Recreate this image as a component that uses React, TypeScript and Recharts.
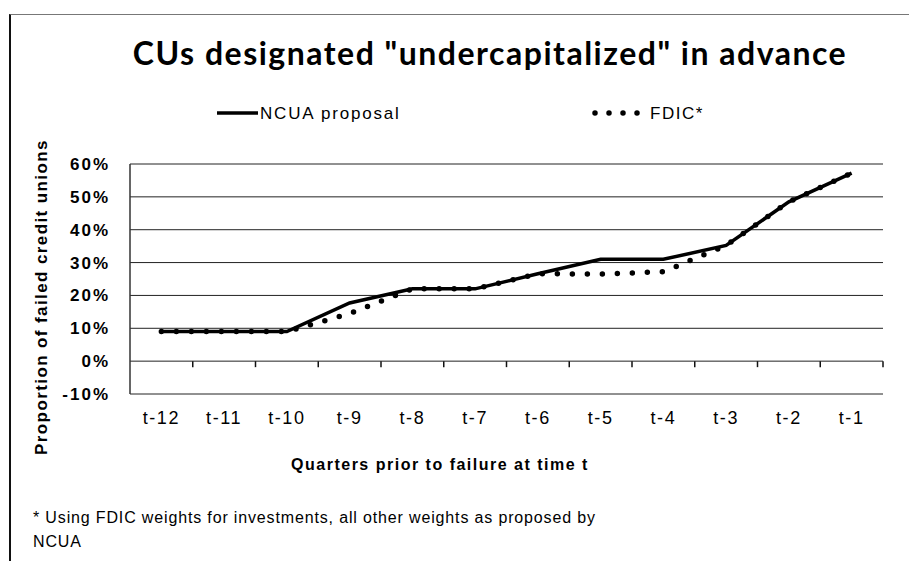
import { LineChart, Line, XAxis, YAxis, CartesianGrid, Legend } from "recharts";

const quarters = ["t-12", "t-11", "t-10", "t-9", "t-8", "t-7", "t-6", "t-5", "t-4", "t-3", "t-2", "t-1"];
const ncuaProposal = [9, 9, 9, 17.7, 22, 22, 26.6, 31, 31, 35.2, 48.5, 57.2];
const fdicWeights = [9, 9, 9, 14.5, 22, 22, 26.6, 26.5, 27.2, 35.2, 48.5, 57.2];
const yTicks = [-10, 0, 10, 20, 30, 40, 50, 60];

const data = quarters.map((q, i) => ({
  quarter: q,
  ncua: ncuaProposal[i],
  fdic: fdicWeights[i],
}));

// plot box, used only for the little tick marks on the 0% line
const W = 909;
const H = 561;
const M = { top: 164, right: 26, bottom: 137, left: 70 };
const Y_AXIS_W = 60;
const X_AXIS_H = 30;
const plotLeft = M.left + Y_AXIS_W;
const plotRight = W - M.right;
const plotTop = M.top;
const plotBottom = H - M.bottom - X_AXIS_H;
const band = (plotRight - plotLeft) / quarters.length;
const zeroY = plotBottom - ((0 - -10) / 70) * (plotBottom - plotTop);

const arial = "'Liberation Sans', Arial, sans-serif";

function QuarterTick(props: any) {
  const { x, payload } = props;
  return (
    <g>
      <line x1={x + band / 2} x2={x + band / 2} y1={zeroY} y2={zeroY + 6} stroke="#111" strokeWidth={1.5} />
      <text
        x={x}
        y={plotBottom + 30}
        textAnchor="middle"
        fontFamily={arial}
        fontSize={18}
        letterSpacing={1.6}
        fill="#000"
      >
        {payload.value}
      </text>
    </g>
  );
}

function LegendBox() {
  return (
    <div style={{ position: "relative", width: W, height: 30 }}>
      <svg width={W} height={30} style={{ position: "absolute", left: 0, top: 0 }}>
        <line x1={217} x2={258} y1={14} y2={14} stroke="#000" strokeWidth={3.5} />
        <line
          x1={595}
          x2={640}
          y1={14}
          y2={14}
          stroke="#000"
          strokeWidth={5.5}
          strokeDasharray="0 14"
          strokeLinecap="round"
        />
        <text x={260} y={20} fontFamily={arial} fontSize={17} letterSpacing={1.8} fill="#000">
          NCUA proposal
        </text>
        <text x={650} y={20} fontFamily={arial} fontSize={17} letterSpacing={1.5} fill="#000">
          FDIC*
        </text>
      </svg>
    </div>
  );
}

export default function App() {
  return (
    <div style={{ position: "absolute", left: 0, top: 0, width: W, height: H, background: "#fff" }}>
      <div
        style={{
          position: "absolute",
          left: 9,
          top: 14,
          width: W - 9,
          height: H - 14,
          borderTop: "1.5px solid #777",
          borderLeft: "2px solid #111",
        }}
      />
      <div
        style={{
          position: "absolute",
          left: 490,
          top: 33,
          transform: "translateX(-50%)",
          whiteSpace: "nowrap",
          fontFamily: "Lato, 'Open Sans', sans-serif",
          fontWeight: 700,
          fontSize: 32,
          letterSpacing: 1.5,
          color: "#000",
        }}
      >
        CUs designated "undercapitalized" in advance
      </div>
      <div
        style={{
          position: "absolute",
          left: 42,
          top: 297,
          transform: "translate(-50%, -50%) rotate(-90deg)",
          whiteSpace: "nowrap",
          fontFamily: arial,
          fontWeight: 700,
          fontSize: 17,
          letterSpacing: 1.4,
          color: "#000",
        }}
      >
        Proportion of failed credit unions
      </div>
      <LineChart width={W} height={H} data={data} margin={M} style={{ position: "absolute", left: 0, top: 0 }}>
        <CartesianGrid horizontal vertical={false} stroke="#222" strokeWidth={1} />
        <XAxis
          dataKey="quarter"
          scale="band"
          height={X_AXIS_H}
          axisLine={false}
          tickLine={false}
          interval={0}
          tick={<QuarterTick />}
        />
        <YAxis
          width={Y_AXIS_W}
          domain={[-10, 60]}
          ticks={yTicks}
          interval={0}
          tickFormatter={(v: number) => `${v}%`}
          axisLine={{ stroke: "#333", strokeWidth: 1.5 }}
          tickLine={false}
          tickSize={0}
          tickMargin={20}
          tick={{ fill: "#000", fontSize: 17, fontWeight: 700, fontFamily: arial, letterSpacing: 2 }}
        />
        <Legend
          verticalAlign="middle"
          align="center"
          layout="horizontal"
          wrapperStyle={{ position: "absolute", top: 99, left: 0, width: W }}
          content={() => <LegendBox />}
        />
        <Line
          type="linear"
          dataKey="fdic"
          name="FDIC*"
          stroke="#000"
          strokeWidth={5.5}
          strokeDasharray="0 15"
          strokeLinecap="round"
          dot={false}
          activeDot={false}
          isAnimationActive={false}
        />
        <Line
          type="linear"
          dataKey="ncua"
          name="NCUA proposal"
          stroke="#000"
          strokeWidth={3.5}
          dot={false}
          activeDot={false}
          isAnimationActive={false}
        />
      </LineChart>
      <div
        style={{
          position: "absolute",
          left: 440,
          top: 456,
          transform: "translateX(-50%)",
          whiteSpace: "nowrap",
          fontFamily: arial,
          fontWeight: 700,
          fontSize: 16,
          letterSpacing: 1.5,
          color: "#000",
        }}
      >
        Quarters prior to failure at time t
      </div>
      <div
        style={{
          position: "absolute",
          left: 33,
          top: 506,
          fontFamily: arial,
          fontSize: 16,
          letterSpacing: 0.85,
          lineHeight: "24px",
          color: "#000",
          whiteSpace: "nowrap",
        }}
      >
        * Using FDIC weights for investments, all other weights as proposed by
        <br />
        NCUA
      </div>
    </div>
  );
}
